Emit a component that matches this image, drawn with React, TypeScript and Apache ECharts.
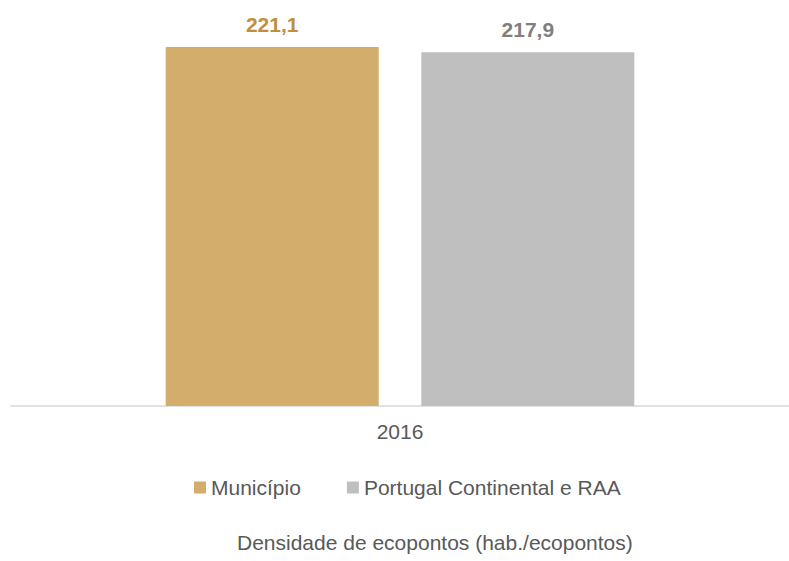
import React, { useEffect, useRef } from "react";
import * as echarts from "echarts";

const categories = ["2016"];
const seriesNames = ["Município", "Portugal Continental e RAA"];
const municipioValues = [221.1];
const portugalValues = [217.9];
const chartTitle = "Densidade de ecopontos (hab./ecopontos)";

const fmt = (v: number) => v.toFixed(1).replace(".", ",");

export default function App() {
  const ref = useRef<HTMLDivElement>(null);
  useEffect(() => {
    if (!ref.current) return;
    const chart = echarts.init(ref.current, undefined, { renderer: "svg" });
    const font = "'Liberation Sans', Arial, sans-serif";
    chart.setOption({
      animation: false,
      backgroundColor: "#ffffff",
      textStyle: { fontFamily: font },
      title: {
        text: chartTitle,
        left: 237,
        top: 532,
        padding: 0,
        textStyle: { fontFamily: font, fontSize: 21, fontWeight: "normal", color: "#595959" },
      },
      legend: {
        left: 194,
        top: 477,
        padding: 0,
        icon: "rect",
        itemWidth: 12,
        itemHeight: 12,
        itemGap: 46,
        textStyle: { fontFamily: font, fontSize: 21, color: "#595959" },
        data: seriesNames,
      },
      grid: { left: 11, width: 788, top: -5.9, bottom: 155, containLabel: false },
      xAxis: {
        type: "category",
        data: categories,
        axisLine: { show: true, lineStyle: { color: "#d9d9d9", width: 1.5 } },
        axisTick: { show: false },
        axisLabel: { fontFamily: font, fontSize: 21, color: "#595959", margin: 15 },
        splitLine: { show: false },
      },
      yAxis: {
        type: "value",
        min: 0,
        max: 250,
        show: false,
        splitLine: { show: false },
      },
      series: [
        {
          name: seriesNames[0],
          type: "bar",
          data: municipioValues,
          barWidth: 213,
          barGap: "20%",
          itemStyle: { color: "#D3AD6B" },
          label: {
            show: true,
            position: "top",
            distance: 12,
            formatter: (p: any) => fmt(p.value),
            fontFamily: font,
            fontSize: 21,
            fontWeight: "bold",
            color: "#BF8F3E",
          },
        },
        {
          name: seriesNames[1],
          type: "bar",
          data: portugalValues,
          barWidth: 213,
          itemStyle: { color: "#BFBFBF" },
          label: {
            show: true,
            position: "top",
            distance: 12,
            formatter: (p: any) => fmt(p.value),
            fontFamily: font,
            fontSize: 21,
            fontWeight: "bold",
            color: "#7F7F7F",
          },
        },
      ],
    });
    return () => chart.dispose();
  }, []);
  return (
    <div
      ref={ref}
      style={{ position: "fixed", left: 0, top: 0, width: 789, height: 561, background: "#fff" }}
    />
  );
}
